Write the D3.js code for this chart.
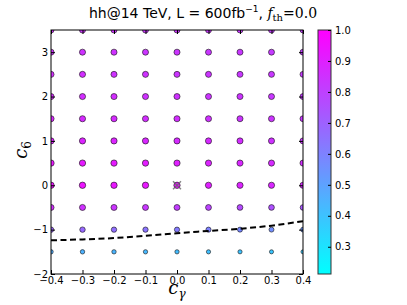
<!DOCTYPE html>
<html>
<head>
<meta charset="utf-8">
<script src="https://cdn.jsdelivr.net/npm/d3@7"></script>
<style>
  body { margin: 0; background: #fff; }
  text { font-family: "DejaVu Sans", sans-serif; }
  .serif { font-family: "DejaVu Serif", "Liberation Serif", serif; font-style: italic; }
</style>
</head>
<body>
<div id="chart"></div>
<script>
// grid of points, c_gamma along x, c_6 along y
var cGamma = [-0.4, -0.3, -0.2, -0.1, 0.0, 0.1, 0.2, 0.3, 0.4];
var c6 = [3.5, 3.0, 2.5, 2.0, 1.5, 1.0, 0.5, 0.0, -0.5, -1.0, -1.5];

// colour value per point, one row per c6 value (top to bottom)
var values = [
  [0.85, 0.85, 0.85, 0.84, 0.84, 0.83, 0.83, 0.82, 0.81],
  [0.85, 0.85, 0.85, 0.84, 0.84, 0.83, 0.83, 0.82, 0.81],
  [0.86, 0.86, 0.85, 0.85, 0.84, 0.84, 0.83, 0.83, 0.82],
  [0.87, 0.86, 0.86, 0.85, 0.85, 0.84, 0.84, 0.83, 0.82],
  [0.88, 0.87, 0.87, 0.86, 0.86, 0.85, 0.84, 0.84, 0.83],
  [0.90, 0.89, 0.89, 0.88, 0.87, 0.87, 0.86, 0.85, 0.84],
  [0.93, 0.92, 0.92, 0.91, 0.90, 0.89, 0.88, 0.87, 0.86],
  [0.94, 0.94, 0.93, 0.93, 0.92, 0.90, 0.89, 0.88, 0.87],
  [0.86, 0.85, 0.84, 0.83, 0.81, 0.79, 0.77, 0.75, 0.73],
  [0.69, 0.68, 0.66, 0.64, 0.62, 0.60, 0.58, 0.56, 0.54],
  [0.46, 0.45, 0.44, 0.43, 0.42, 0.41, 0.40, 0.39, 0.38]
];

// dashed boundary curve
var lineX = [-0.4, -0.3, -0.2, -0.1, 0.0, 0.1, 0.2, 0.3, 0.4];
var lineY = [-1.24, -1.22, -1.19, -1.14, -1.08, -1.03, -0.98, -0.91, -0.81];

// SM point marked with a cross
var smPoint = [0.0, 0.0];

var xTicks = [-0.4, -0.3, -0.2, -0.1, 0.0, 0.1, 0.2, 0.3, 0.4];
var yTicks = [-2, -1, 0, 1, 2, 3];
var cbTicks = [0.3, 0.4, 0.5, 0.6, 0.7, 0.8, 0.9, 1.0];
var cbDomain = [0.212, 1.0];

var width = 407, height = 305;
var mLeft = 51, mRight = 303, mTop = 30, mBottom = 274;

var svg = d3.select("#chart").append("svg")
  .attr("width", width)
  .attr("height", height);

var x = d3.scaleLinear().domain([-0.4, 0.4]).range([mLeft, mRight]);
var y = d3.scaleLinear().domain([-2, 3.5]).range([mBottom, mTop]);

// matplotlib "cool" colormap
var cool = function(v) {
  var t = (v - cbDomain[0]) / (cbDomain[1] - cbDomain[0]);
  t = Math.max(0, Math.min(1, t));
  return d3.rgb(255 * t, 255 * (1 - t), 255) + "";
};
var rad = d3.scaleSqrt().domain([0, 1]).range([0, 3.3]);

svg.append("clipPath").attr("id", "clip")
  .append("rect")
  .attr("x", mLeft).attr("y", mTop)
  .attr("width", mRight - mLeft).attr("height", mBottom - mTop);

var pts = [];
c6.forEach(function(cy, i) {
  cGamma.forEach(function(cx, j) {
    pts.push({x: cx, y: cy, v: values[i][j]});
  });
});

var plot = svg.append("g").attr("clip-path", "url(#clip)");

plot.selectAll("circle")
  .data(pts)
  .enter().append("circle")
  .attr("cx", function(d) { return x(d.x); })
  .attr("cy", function(d) { return y(d.y); })
  .attr("r", function(d) { return rad(d.v); })
  .attr("fill", function(d) { return cool(d.v); })
  .attr("stroke", "#111")
  .attr("stroke-width", 0.6);

// cross on SM point
var cs = 4;
var sx = x(smPoint[0]), sy = y(smPoint[1]);
plot.append("path")
  .attr("d", "M" + (sx - cs) + "," + (sy - cs) + "L" + (sx + cs) + "," + (sy + cs) +
             "M" + (sx - cs) + "," + (sy + cs) + "L" + (sx + cs) + "," + (sy - cs))
  .attr("stroke", "#666")
  .attr("stroke-width", 1.4)
  .attr("opacity", 0.8);

var line = d3.line()
  .x(function(d, i) { return x(lineX[i]); })
  .y(function(d, i) { return y(lineY[i]); })
  .curve(d3.curveMonotoneX);

plot.append("path")
  .datum(lineX)
  .attr("d", line)
  .attr("fill", "none")
  .attr("stroke", "#000")
  .attr("stroke-width", 2)
  .attr("stroke-dasharray", "6,3.5");

// frame
svg.append("rect")
  .attr("x", mLeft).attr("y", mTop)
  .attr("width", mRight - mLeft).attr("height", mBottom - mTop)
  .attr("fill", "none")
  .attr("stroke", "#000")
  .attr("stroke-width", 1);

// axes with inward ticks (classic style)
var minus = function(s) { return String(s).replace("-", "\u2212"); };
var xAxis = svg.append("g").attr("transform", "translate(0," + mBottom + ")")
  .call(d3.axisBottom(x).tickValues(xTicks).tickSizeInner(-4).tickSizeOuter(0).tickPadding(3)
    .tickFormat(function(d) { return minus(d3.format(".1f")(d)); }));
var xAxisTop = svg.append("g").attr("transform", "translate(0," + mTop + ")")
  .call(d3.axisTop(x).tickValues(xTicks).tickSizeInner(-4).tickSizeOuter(0).tickFormat(""));
var yAxis = svg.append("g").attr("transform", "translate(" + mLeft + ",0)")
  .call(d3.axisLeft(y).tickValues(yTicks).tickSizeInner(-4).tickSizeOuter(0).tickPadding(3)
    .tickFormat(minus));
var yAxisRight = svg.append("g").attr("transform", "translate(" + mRight + ",0)")
  .call(d3.axisRight(y).tickValues(yTicks).tickSizeInner(-4).tickSizeOuter(0).tickFormat(""));

[xAxis, xAxisTop, yAxis, yAxisRight].forEach(function(g) {
  g.select(".domain").remove();
  g.selectAll("text").attr("font-size", 10).attr("font-family", "DejaVu Sans").attr("fill", "#000");
  g.selectAll("line").attr("stroke", "#000");
});

// axis labels
svg.append("text")
  .attr("class", "serif")
  .attr("x", 177).attr("y", 294)
  .attr("text-anchor", "middle")
  .attr("font-size", 18)
  .html('c<tspan font-size="12" dy="4">\u03b3</tspan>');

svg.append("text")
  .attr("class", "serif")
  .attr("transform", "translate(27,150) rotate(-90)")
  .attr("text-anchor", "middle")
  .attr("font-size", 18)
  .html('c<tspan font-size="12" dy="4" font-style="normal">6</tspan>');

// title
var title = svg.append("text")
  .attr("x", 203).attr("y", 18)
  .attr("text-anchor", "middle")
  .attr("font-size", 14);
title.append("tspan").text("hh@14 TeV, L = 600fb");
title.append("tspan").attr("font-size", 9).attr("dy", -6).text("\u22121");
title.append("tspan").attr("dy", 6).text(", ");
title.append("tspan").attr("font-family", "DejaVu Serif").attr("font-style", "italic").text("f");
title.append("tspan").attr("font-family", "DejaVu Serif").attr("font-size", 10).attr("dy", 3).text("th");
title.append("tspan").attr("font-family", "DejaVu Serif").attr("dy", -3).text("=0.0");

// colorbar
var cbX = 318, cbW = 13;
var cb = d3.scaleLinear().domain(cbDomain).range([mBottom, mTop]);
var grad = svg.append("defs").append("linearGradient")
  .attr("id", "cbgrad")
  .attr("x1", 0).attr("y1", 1).attr("x2", 0).attr("y2", 0);
d3.range(0, 1.0001, 0.1).forEach(function(t) {
  grad.append("stop")
    .attr("offset", t)
    .attr("stop-color", cool(cbDomain[0] + t * (cbDomain[1] - cbDomain[0])));
});
svg.append("rect")
  .attr("x", cbX).attr("y", mTop)
  .attr("width", cbW).attr("height", mBottom - mTop)
  .attr("fill", "url(#cbgrad)")
  .attr("stroke", "#333")
  .attr("stroke-width", 1);

var cbAxis = svg.append("g").attr("transform", "translate(" + (cbX + cbW) + ",0)")
  .call(d3.axisRight(cb).tickValues(cbTicks).tickSizeInner(-3).tickSizeOuter(0).tickPadding(4)
    .tickFormat(d3.format(".1f")));
cbAxis.select(".domain").remove();
cbAxis.selectAll("text").attr("font-size", 10).attr("font-family", "DejaVu Sans").attr("fill", "#000");
cbAxis.selectAll("line").attr("stroke", "#000");
</script>
</body>
</html>
